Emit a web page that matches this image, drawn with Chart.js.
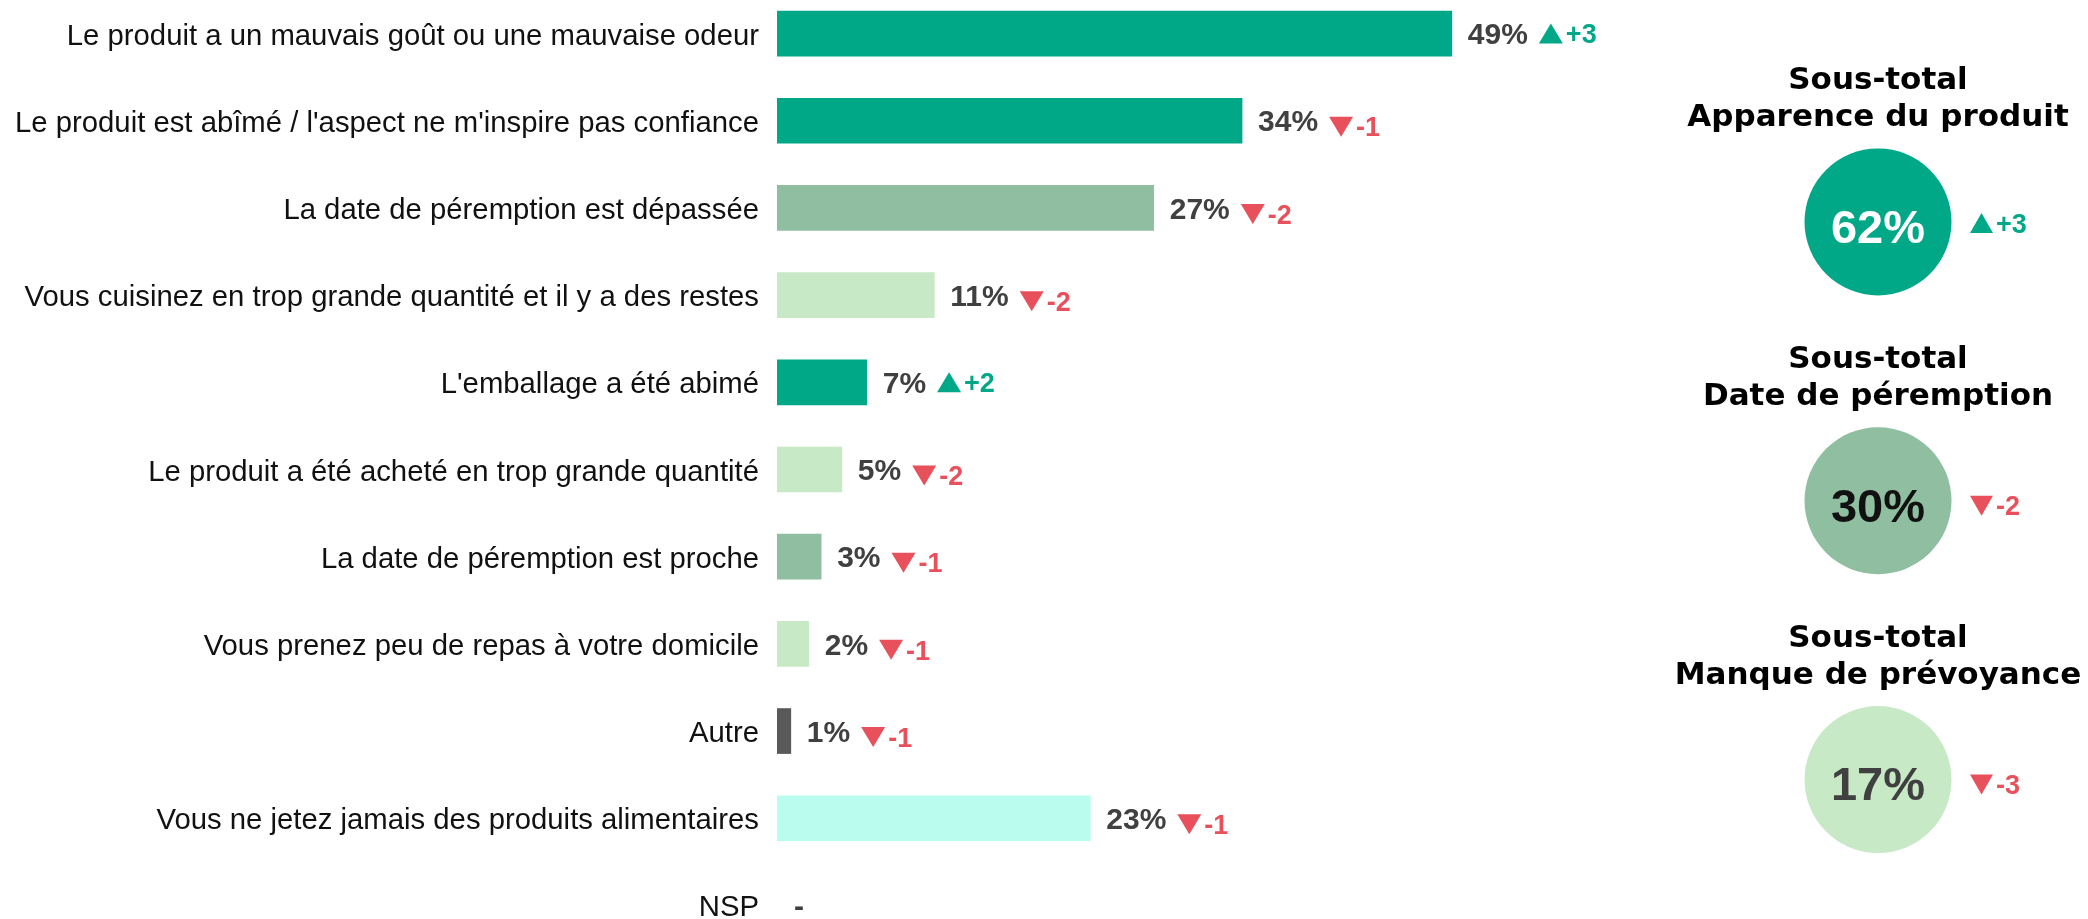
<!DOCTYPE html>
<html><head><meta charset="utf-8">
<script src="https://cdn.jsdelivr.net/npm/chart.js@4.4.1/dist/chart.umd.min.js"></script>
<style>
html,body{margin:0;padding:0;background:#fff;width:2088px;height:919px;overflow:hidden;position:relative}
#bars{position:absolute;left:0;top:-10px}
#totals{position:absolute;left:1658px;top:0}
</style></head><body>
<canvas id="bars" width="1640" height="959"></canvas>
<canvas id="totals" width="440" height="919"></canvas>
<script>
// ---- data ----
const categories = [
  "Le produit a un mauvais goût ou une mauvaise odeur",
  "Le produit est abîmé / l'aspect ne m'inspire pas confiance",
  "La date de péremption est dépassée",
  "Vous cuisinez en trop grande quantité et il y a des restes",
  "L'emballage a été abimé",
  "Le produit a été acheté en trop grande quantité",
  "La date de péremption est proche",
  "Vous prenez peu de repas à votre domicile",
  "Autre",
  "Vous ne jetez jamais des produits alimentaires",
  "NSP"
];
const values = [48.9, 33.7, 27.3, 11.4, 6.5, 4.7, 3.2, 2.3, 1.0, 22.7, null];
const deltas = [3, -1, -2, -2, 2, -2, -1, -1, -1, -1, null];
const barColors = ["#00A887","#00A887","#8FBFA0","#C8E9C5","#00A887","#C8E9C5","#8FBFA0","#C8E9C5","#595959","#BAFDEF","#595959"];

const subtotalTitles = [["Sous-total","Apparence du produit"],["Sous-total","Date de péremption"],["Sous-total","Manque de prévoyance"]];
const subtotalNames = ["Apparence du produit","Date de péremption","Manque de prévoyance"];
const subtotalValues = [62, 30, 17];
const subtotalDeltas = [3, -2, -3];
const subtotalColors = ["#00A887","#8FBFA0","#C8E9C5"];
const subtotalTextColors = ["#ffffff","#111111","#404040"];

const UP = "#00A887", DOWN = "#E8505B";
const SANS = '"Liberation Sans", Arial, sans-serif';

function tri(ctx, x, cy, up, color, w, h){
  ctx.fillStyle = color;
  ctx.beginPath();
  if(up){ ctx.moveTo(x, cy + h/2); ctx.lineTo(x + w, cy + h/2); ctx.lineTo(x + w/2, cy - h/2); }
  else { ctx.moveTo(x, cy - h/2); ctx.lineTo(x + w, cy - h/2); ctx.lineTo(x + w/2, cy + h/2); }
  ctx.closePath(); ctx.fill();
}
function fmtDelta(d){ return d > 0 ? "+" + d : String(d); }

const barLabels = {
  id: "barLabels",
  afterDatasetsDraw(chart){
    const ctx = chart.ctx, meta = chart.getDatasetMeta(0), xs = chart.scales.x, ys = chart.scales.y;
    ctx.save();
    ctx.textAlign = "left"; ctx.textBaseline = "alphabetic";
    values.forEach((v, i) => {
      const y = ys.getPixelForValue(i);
      ctx.font = "bold 30px " + SANS;
      ctx.fillStyle = "#404040";
      if(v == null){ ctx.fillText("-", xs.getPixelForValue(0) + 17, y + 10.7); return; }
      const bar = meta.data[i];
      const txt = Math.round(v) + "%";
      const tx = bar.x + 16;
      ctx.fillText(txt, tx, y + 10.7);
      const d = deltas[i];
      if(d == null) return;
      const w = ctx.measureText(txt).width;
      const up = d > 0, col = up ? UP : DOWN, cy = up ? y : y + 6;
      const triX = tx + w + 11;
      tri(ctx, triX, cy, up, col, 24, 20);
      ctx.font = "bold 27px " + SANS;
      ctx.fillStyle = col;
      ctx.fillText(fmtDelta(d), triX + 27, cy + 9.7);
    });
    ctx.restore();
  }
};

new Chart(document.getElementById("bars"), {
  type: "bar",
  data: {
    labels: categories,
    datasets: [{ data: values, backgroundColor: barColors, barThickness: 45, borderWidth: 0 }]
  },
  options: {
    indexAxis: "y",
    responsive: false,
    animation: false,
    events: [],
    layout: { autoPadding: false, padding: { left: 0, right: 35, top: 0, bottom: 0 } },
    scales: {
      x: { display: false, min: 0, max: 60 },
      y: {
        grid: { display: false, drawTicks: false },
        border: { display: false },
        ticks: { padding: 18, labelOffset: 3, color: "#111111", font: { family: SANS, size: 29.3 } },
        afterFit(scale){ scale.width = 777; scale.paddingTop = 0; scale.paddingBottom = 0; }
      }
    },
    plugins: { legend: { display: false }, tooltip: { enabled: false } }
  },
  plugins: [barLabels]
});

const totalLabels = {
  id: "totalLabels",
  afterDatasetsDraw(chart){
    const ctx = chart.ctx, meta = chart.getDatasetMeta(0);
    ctx.save();
    ctx.textBaseline = "alphabetic";
    meta.data.forEach((pt, i) => {
      const x = pt.x, y = pt.y;
      ctx.textAlign = "center";
      ctx.fillStyle = "#000000";
      ctx.font = 'bold 31px "DejaVu Sans", sans-serif';
      ctx.fillText(subtotalTitles[i][0], x, y - 144 + 11.3);
      ctx.fillText(subtotalTitles[i][1], x, y - 107 + 11.3);
      ctx.font = "bold 47px " + SANS;
      ctx.fillStyle = subtotalTextColors[i];
      ctx.fillText(subtotalValues[i] + "%", x, y + 4 + 16.8);
      const d = subtotalDeltas[i], up = d > 0, col = up ? UP : DOWN;
      const cy = up ? y + 1 : y + 5;
      const triX = x + 92;
      tri(ctx, triX, cy, up, col, 23, 20);
      ctx.textAlign = "left";
      ctx.font = "bold 27px " + SANS;
      ctx.fillStyle = col;
      ctx.fillText(fmtDelta(d), triX + 26, cy + 9.7);
    });
    ctx.restore();
  }
};

new Chart(document.getElementById("totals"), {
  type: "scatter",
  data: {
    datasets: [{
      data: subtotalNames.map(n => ({ x: 0, y: n })),
      pointBackgroundColor: subtotalColors,
      backgroundColor: subtotalColors,
      pointBorderWidth: 0,
      borderWidth: 0,
      pointRadius: 73.5,
      pointHoverRadius: 73.5,
      clip: false
    }]
  },
  options: {
    responsive: false,
    animation: false,
    events: [],
    layout: { autoPadding: false, padding: { top: 82.5, bottom: 0, left: 0, right: 0 } },
    scales: {
      x: { display: false, min: -1, max: 1 },
      y: { display: false, type: "category", labels: subtotalNames, offset: true }
    },
    plugins: { legend: { display: false }, tooltip: { enabled: false } }
  },
  plugins: [totalLabels]
});
</script>
</body></html>
